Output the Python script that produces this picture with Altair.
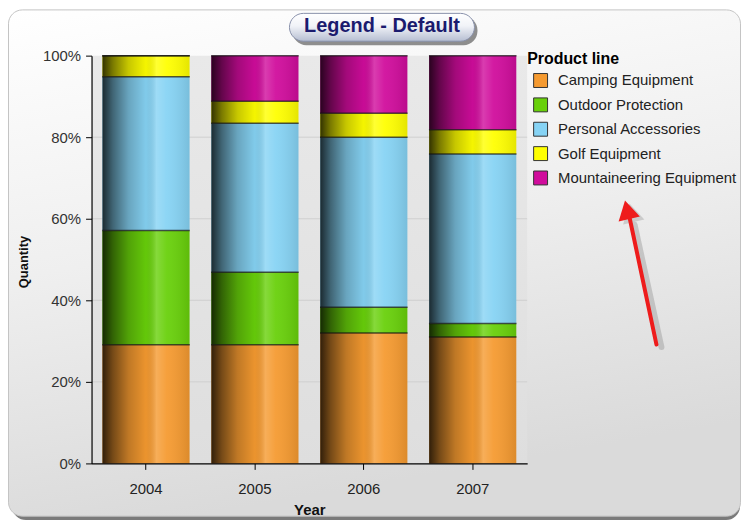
import altair as alt
import pandas as pd

# ---------------- data ----------------
years = ["2004", "2005", "2006", "2007"]
products = ["Camping Equipment", "Outdoor Protection", "Personal Accessories",
            "Golf Equipment", "Mountaineering Equipment"]
camping = [29.1, 29.1, 32.0, 31.0]
outdoor = [28.0, 17.8, 6.3, 3.3]
personal = [37.7, 36.5, 41.7, 41.6]
golf = [5.2, 5.4, 5.9, 5.9]
mountaineering = [0.0, 11.2, 14.1, 18.2]
colors = ["#F59A30", "#68D00A", "#86D3F4", "#FFFF00", "#D00C9C"]
y_ticks = [0, 0.2, 0.4, 0.6, 0.8, 1.0]
grid_vals = [0.2, 0.4, 0.6, 0.8]

series = [camping, outdoor, personal, golf, mountaineering]
rows = []
for i, (p, vals) in enumerate(zip(products, series)):
    for yr, v in zip(years, vals):
        rows.append({"year": yr, "product": p, "order": i, "value": v})
df = pd.DataFrame(rows)
one = pd.DataFrame({"k": [0]})
grid_df = pd.DataFrame({"v": grid_vals})

# ---------------- layout ----------------
W, H = 438, 410
PL, PT = 84, 46.5
TOTAL_W, TOTAL_H = 737, 514
PR = TOTAL_W - PL - W
PB = TOTAL_H - PT - H
FONT = "Liberation Sans"

x_axis = alt.Axis(labelAngle=0, labelFontSize=15, labelColor="#222", labelFont=FONT,
                  tickSize=6, tickColor="black", domainColor="black", domainWidth=1.2,
                  labelPadding=12, titleFontSize=15, titleFont=FONT, titleFontWeight="bold",
                  titleColor="#111", titlePadding=6, zindex=1, grid=False)
y_axis = alt.Axis(values=y_ticks, format=".0%", labelFontSize=15, labelColor="#333",
                  labelFont=FONT, tickSize=6, tickColor="black", domainColor="black",
                  domainWidth=1.2, labelPadding=5, titleFontSize=13, titleFont=FONT,
                  titleFontWeight="bold", titleColor="#111", titleX=-68, titleY=207,
                  titleAngle=270, titleAlign="center", titleBaseline="middle",
                  zindex=1, grid=False)

x_enc = alt.X("year:O", title="Year", sort=years,
              scale=alt.Scale(paddingInner=0.2, paddingOuter=0.1), axis=x_axis)
y_scale = alt.Scale(domain=[0, 1], nice=False)

stacked = alt.Chart(df).transform_stack(
    stack="value", groupby=["year"], as_=["y0", "y1"], offset="normalize",
    sort=[alt.SortField("order", order="ascending")]
)

legend = alt.Legend(title="Product line", orient="none", legendX=438, legendY=-4.5,
                    titleFontSize=16, titleFontWeight="bold", titleColor="black",
                    titleFont=FONT, labelFont=FONT, labelFontSize=15, labelColor="#222",
                    labelLimit=400,
                    symbolType="square", symbolSize=196, symbolStrokeColor="#333",
                    symbolStrokeWidth=1, labelOffset=10, rowPadding=5.5,
                    titlePadding=6, symbolOffset=6)

# ---------------- decorations ----------------
frame_shadow = alt.Chart(one).mark_rect(fill="#7a7a7a", cornerRadius=14).encode(
    x=alt.value(-80), x2=alt.value(652), y=alt.value(-40), y2=alt.value(467))
frame = alt.Chart(one).mark_rect(
    cornerRadius=14, stroke="#c4c4c4", strokeWidth=1,
    fill=alt.Gradient(gradient="linear", x1=0, y1=0, x2=0.25, y2=1,
                      stops=[alt.GradientStop(offset=0, color="#ffffff"),
                             alt.GradientStop(offset=0.5, color="#efefef"),
                             alt.GradientStop(offset=1, color="#dadada")])
).encode(x=alt.value(-83.5), x2=alt.value(652.5), y=alt.value(-46), y2=alt.value(463))

pill_shadow = alt.Chart(one).mark_rect(fill="#6a6a6a", opacity=0.75, cornerRadius=14).encode(
    x=alt.value(202), x2=alt.value(388), y=alt.value(-39.5), y2=alt.value(-10.5))
pill = alt.Chart(one).mark_rect(
    cornerRadius=14, stroke="#8890aa", strokeWidth=1,
    fill=alt.Gradient(gradient="linear", x1=0, y1=0, x2=0, y2=1,
                      stops=[alt.GradientStop(offset=0, color="#ffffff"),
                             alt.GradientStop(offset=0.45, color="#f1f3f8"),
                             alt.GradientStop(offset=1, color="#b6bed2")])
).encode(x=alt.value(199), x2=alt.value(385), y=alt.value(-42.5), y2=alt.value(-14.5))
pill_text = alt.Chart(one).mark_text(
    text="Legend - Default", font=FONT, fontSize=20, fontWeight="bold", color="#1b1b6e",
    align="center", baseline="middle").encode(x=alt.value(292), y=alt.value(-29.5))

plot_bg = alt.Chart(one).mark_rect(
    fill=alt.Gradient(gradient="linear", x1=0, y1=0, x2=0, y2=1,
                      stops=[alt.GradientStop(offset=0, color="#e9e9e9"),
                             alt.GradientStop(offset=1, color="#dedede")])
).encode(x=alt.value(0), x2=alt.value("width"), y=alt.value(0), y2=alt.value("height"))

grid = alt.Chart(grid_df).mark_rule(color="#d0d0d0", strokeWidth=1).encode(
    y=alt.Y("v:Q", scale=y_scale, axis=y_axis, title="Quantity"),
    x=alt.value(0), x2=alt.value("width"))

# ---------------- bars ----------------
bars = stacked.mark_bar().encode(
    x=x_enc,
    y=alt.Y("y0:Q", scale=y_scale, axis=y_axis, title="Quantity"),
    y2="y1:Q",
    color=alt.Color("product:N", scale=alt.Scale(domain=products, range=colors),
                    legend=legend),
)
shade = stacked.mark_bar(
    fill=alt.Gradient(gradient="linear", x1=0, y1=0, x2=1, y2=0,
                      stops=[alt.GradientStop(offset=0, color="rgba(0,0,0,0.80)"),
                             alt.GradientStop(offset=0.12, color="rgba(0,0,0,0.52)"),
                             alt.GradientStop(offset=0.3, color="rgba(0,0,0,0.22)"),
                             alt.GradientStop(offset=0.5, color="rgba(0,0,0,0.04)"),
                             alt.GradientStop(offset=0.62, color="rgba(255,255,255,0.2)"),
                             alt.GradientStop(offset=0.74, color="rgba(255,255,255,0.06)"),
                             alt.GradientStop(offset=1, color="rgba(0,0,0,0.1)")])
).encode(
    x=x_enc,
    y=alt.Y("y0:Q", scale=y_scale, axis=y_axis, title="Quantity"),
    y2="y1:Q",
)
seps = stacked.mark_tick(color="#111", thickness=1.5, size=88, orient="horizontal").encode(
    x=x_enc,
    y=alt.Y("y1:Q", scale=y_scale, axis=y_axis, title="Quantity"),
)

# ---------------- arrow ----------------
arrow_shadow = alt.Chart(one).mark_rule(color="#9a9a9a", opacity=0.45, strokeWidth=6,
                                        strokeCap="round").encode(
    x=alt.value(573), y=alt.value(293), x2=alt.value(546), y2=alt.value(170))
arrow = alt.Chart(one).mark_rule(color="#ee1c1c", strokeWidth=4, strokeCap="round").encode(
    x=alt.value(568), y=alt.value(290.5), x2=alt.value(541), y2=alt.value(163))
head_shadow = alt.Chart(one).mark_point(shape="triangle-up", filled=True, size=480,
                                        angle=347, color="#9a9a9a", opacity=0.4).encode(
    x=alt.value(543), y=alt.value(158))
head = alt.Chart(one).mark_point(shape="triangle-up", filled=True, size=480, angle=347,
                                 color="#ee1c1c", opacity=1).encode(
    x=alt.value(538.5), y=alt.value(155))

chart = alt.layer(
    frame_shadow, frame, pill_shadow, pill, pill_text, plot_bg, grid,
    bars, shade, seps, arrow_shadow, head_shadow, arrow, head
).properties(
    width=W, height=H,
    autosize=alt.AutoSizeParams(type="none"),
    padding={"left": PL, "top": PT, "right": PR, "bottom": PB},
    background="white",
).configure_view(stroke=None).configure(font=FONT)

chart.save("out.html", embed_options={"renderer": "svg", "actions": False})
